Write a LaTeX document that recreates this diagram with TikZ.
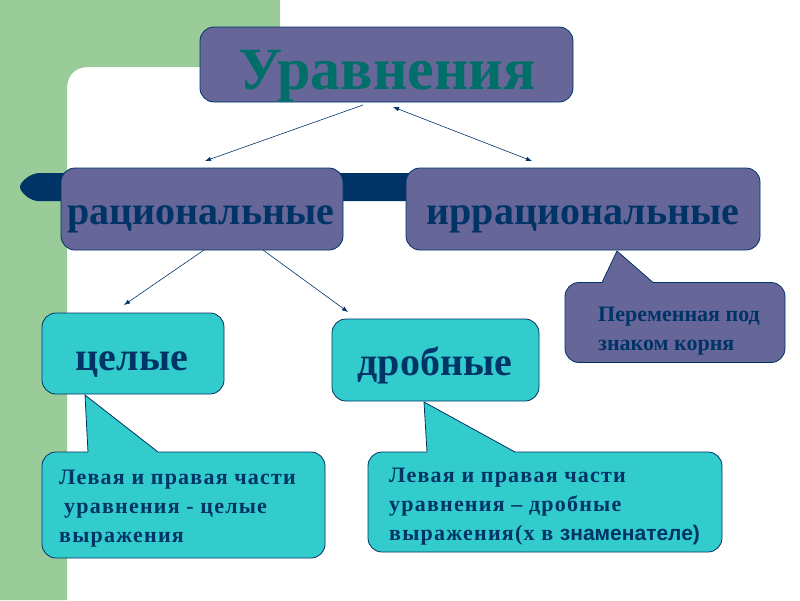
\documentclass[tikz,border=0pt]{standalone}
\usepackage{fontspec}
\setmainfont{Liberation Serif}
\newfontfamily\sansbold{Liberation Sans}
\newfontfamily\spacedserif[LetterSpace=5.5]{Liberation Serif}
\usetikzlibrary{arrows.meta,calc}
\definecolor{bggreen}{RGB}{153,204,153}
\definecolor{purp}{RGB}{102,102,153}
\definecolor{turq}{RGB}{51,204,204}
\definecolor{navy}{RGB}{0,51,102}
\definecolor{teal2}{RGB}{0,110,105}
\begin{document}
\begin{tikzpicture}[x=1pt,y=-1pt,
  boxbase/.style={draw=navy, line width=0.8pt, rounded corners=14pt, inner sep=0pt},
  pbox/.style={boxbase, fill=purp},
  tbox/.style={boxbase, fill=turq},
  bigtxt/.style={font=\fontsize{40}{48}\selectfont\bfseries, text=navy, inner sep=0pt, anchor=base},
  titletxt/.style={font=\fontsize{60}{70}\selectfont\bfseries, text=teal2, inner sep=0pt, anchor=base},
  notetxt/.style={font=\fontsize{22}{29}\selectfont\bfseries, text=navy, inner sep=0pt, align=left, anchor=north west},
  widetxt/.style={notetxt, font=\spacedserif\fontsize{22}{29}\selectfont\bfseries},
  conn/.style={draw=navy, line width=0.6pt, -{Latex[length=6pt,width=4.5pt]}},
  dconn/.style={draw=navy, line width=0.6pt, {Latex[length=6pt,width=4.5pt]}-{Latex[length=6pt,width=4.5pt]}},
  ptrline/.style={draw=navy, line width=0.8pt, line join=round},
]
\useasboundingbox (0,0) rectangle (800,600);
\fill[white] (0,0) rectangle (800,600);
% background L-shape
\fill[bggreen] (0,0) -- (280,0) -- (280,67) -- (89,67)
  .. controls (75,67) and (67,75) .. (67,89) -- (67,600) -- (0,600) -- cycle;
% dark bar
\fill[navy] (40,173) -- (420,173) -- (420,201) -- (38,201)
  .. controls (30,201) and (20,192) .. (20,187)
  .. controls (20,182) and (30,173) .. (40,173) -- cycle;

% main boxes
\node[pbox, minimum width=373pt, minimum height=75pt] (eq) at (386.5,64.5) {};
\node[titletxt] (eqT) at (387,89) {Уравнения};

\node[pbox, minimum width=282pt, minimum height=82pt] (rat) at (202,209) {};
\node[bigtxt] (ratT) at (201,224) {рациональные};

\node[pbox, minimum width=354pt, minimum height=82pt] (irr) at (583,209) {};
\node[bigtxt] (irrT) at (583,224) {иррациональные};

\node[tbox, minimum width=182pt, minimum height=81pt] (cel) at (133,353.5) {};
\node[bigtxt] (celT) at (132,370) {целые};

\node[tbox, minimum width=207pt, minimum height=82pt] (drob) at (435.5,360) {};
\node[bigtxt] (drobT) at (435,375) {дробные};

% callout boxes
\node[tbox, minimum width=283pt, minimum height=106pt] (c1) at (183.5,505) {};
\node[tbox, minimum width=354pt, minimum height=100pt] (c2) at (545,502) {};
\node[pbox, minimum width=220pt, minimum height=80pt] (c3) at (675,322.5) {};

% callout pointers
\coordinate (t1) at (85,395);  \coordinate (a1) at (88,452);  \coordinate (b1) at (158,452);
\coordinate (t2) at (424,402); \coordinate (a2) at (427,449); \coordinate (b2) at (515,452);
\coordinate (t3) at (617,251); \coordinate (a3) at (602,282.5); \coordinate (b3) at (653,282.5);

\fill[turq] (a1) -- (t1) -- (b1) -- ($(b1)+(0,3)$) -- ($(a1)+(0,3)$) -- cycle;
\draw[ptrline] (a1) -- (t1) -- (b1);
\fill[turq] (a2) -- (t2) -- (b2) -- ($(b2)+(0,3)$) -- ($(a2)+(0,6)$) -- cycle;
\draw[ptrline] ($(a2)+(0,3)$) -- (t2) -- (b2);
\fill[purp] (a3) -- (t3) -- (b3) -- ($(b3)+(0,3)$) -- ($(a3)+(0,3)$) -- cycle;
\draw[ptrline] (a3) -- (t3) -- (b3);

% callout texts
\node[widetxt] (c1T) at (59,469.5) {Левая и правая части\\\hspace*{5pt}уравнения - целые\\выражения};
\node[widetxt] (c2T) at (389,468) {Левая и правая части\\уравнения – дробные\\выражения(х в {\sansbold\fontsize{21}{29}\selectfont знаменателе)}};
\node[notetxt] (c3T) at (598,306.5) {Переменная под\\знаком корня};

% connectors
\coordinate (e1) at (363,105); \coordinate (r1) at (205,161);
\coordinate (e2) at (393,107); \coordinate (i1) at (532,161);
\coordinate (r2) at (204,250); \coordinate (k1) at (124,305);
\coordinate (r3) at (263,250); \coordinate (d1) at (348,312);
\draw[conn] (e1) -- (r1);
\draw[dconn] (e2) -- (i1);
\draw[conn] (r2) -- (k1);
\draw[conn] (r3) -- (d1);
\end{tikzpicture}
\end{document}
